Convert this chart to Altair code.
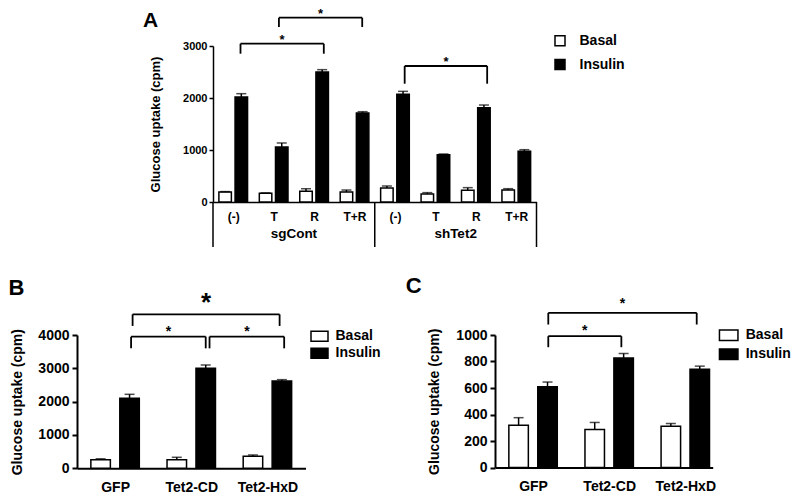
import json
import altair as alt
import pandas as pd

FONT = "Liberation Sans"
SERIES = ["Basal", "Insulin"]
TITLE = "Glucose uptake (cpm)"

# ---------------- Panel A ----------------
a_groups = ["sgCont", "shTet2"]
a_treat = ["(-)", "T", "R", "T+R"]
a_basal = [190, 170, 205, 192, 269, 154, 224, 230]
a_basal_sem = [10, 5, 50, 38, 39, 26, 52, 26]
a_ins = [2020, 1058, 2500, 1711, 2071, 910, 1814, 974]
a_ins_sem = [63, 77, 45, 26, 57, 13, 51, 32]
a_br_x1 = [0.18, 1.13, 4.24]
a_br_x2 = [2.24, 3.19, 6.28]
a_br_top = [3044, 3544, 2615]
a_br_low = [2852, 3365, 2275]
a_star_y = [3035, 3529, 2617]
a_star_fs = [13, 13, 13]

# ---------------- Panel B ----------------
b_cats = ["GFP", "Tet2-CD", "Tet2-HxD"]
b_basal = [260, 260, 360]
b_basal_sem = [25, 70, 40]
b_ins = [2100, 3000, 2620]
b_ins_sem = [120, 100, 40]
b_br_x1 = [0.23, 0.21, 1.24]
b_br_x2 = [2.16, 1.19, 2.22]
b_br_top = [4620, 3951, 3951]
b_br_low = [4272, 3600, 3600]
b_star_y = [4722, 3969, 3969]
b_star_fs = [26, 14, 14]

# ---------------- Panel C ----------------
c_cats = ["GFP", "Tet2-CD", "Tet2-HxD"]
c_basal = [318, 287, 312]
c_basal_sem = [58, 53, 20]
c_ins = [610, 827, 742]
c_ins_sem = [35, 33, 23]
c_br_x1 = [0.20, 0.20]
c_br_x2 = [2.15, 1.16]
c_br_top = [1167, 991]
c_br_low = [1079, 908]
c_star_y = [1205, 1001]
c_star_fs = [14, 14]


def bars_df(basal, bsem, ins, isem, off):
    rows = []
    for i, (b, bs, v, vs) in enumerate(zip(basal, bsem, ins, isem)):
        rows.append(dict(pos=i - off, value=b, top=b + bs, series="Basal"))
        rows.append(dict(pos=i + off, value=v, top=v + vs, series="Insulin"))
    return pd.DataFrame(rows)


def brackets_df(x1, x2, top, low, sy, fs):
    return pd.DataFrame(dict(x1=x1, x2=x2, top=top, low=low, sy=sy, fs=fs,
                             xm=[(a + b) / 2 for a, b in zip(x1, x2)]))


def panel(labels, basal, bsem, ins, isem, off, bar_w, xdom, ydom, yvals, w, h,
          br, letter, letter_xy, leg, yaxis_opts, xaxis_opts, dom_w, extra=None):
    df = bars_df(basal, bsem, ins, isem, off)
    xs = alt.Scale(domain=xdom, nice=False, zero=False, padding=0)
    ys = alt.Scale(domain=ydom, nice=False, zero=True, padding=0)
    lab_expr = json.dumps(labels) + "[datum.value]"
    xaxis = alt.Axis(values=list(range(len(labels))), labelExpr=lab_expr, title=None,
                     ticks=False, tickSize=0, grid=False, domainColor="black",
                     domainWidth=dom_w, labelFlush=False, labelOverlap=False,
                     labelFont=FONT, labelFontWeight="bold", labelColor="black",
                     labelBaseline="top", **xaxis_opts)
    yaxis = alt.Axis(values=yvals, format="d", title=TITLE, grid=False,
                     domainColor="black", domainWidth=dom_w, tickColor="black",
                     tickWidth=dom_w, labelFlush=False, labelFont=FONT,
                     labelFontWeight="bold", labelColor="black", titleFont=FONT,
                     titleFontWeight="bold", titleColor="black", titleBaseline="middle",
                     titleAlign="center", titleY=h / 2, **yaxis_opts)

    def X(f):
        return alt.X(f, type="quantitative", scale=xs, axis=xaxis)

    def Y(f):
        return alt.Y(f, type="quantitative", scale=ys, axis=yaxis)

    base = alt.Chart(df)
    bars = base.mark_bar(size=bar_w, stroke="black", strokeWidth=1.5).encode(
        x=X("pos"), y=Y("value"),
        fill=alt.Fill("series:N", scale=alt.Scale(domain=SERIES, range=["white", "black"]),
                      legend=alt.Legend(title=None, orient="none", padding=0,
                                        symbolStrokeColor="black", symbolStrokeWidth=1.5,
                                        symbolOpacity=1, labelFont=FONT,
                                        labelFontWeight="bold", labelColor="black", **leg)),
    )
    err = base.mark_rule(color="black", strokeWidth=1.5).encode(
        x=X("pos"), y=Y("value"), y2="top")
    cap = base.mark_tick(orient="horizontal", size=10, thickness=1.5, color="black").encode(
        x=X("pos"), y=Y("top"))

    bdf = alt.Chart(br)
    hline = bdf.mark_rule(color="black", strokeWidth=1.8).encode(x=X("x1"), x2="x2", y=Y("top"))
    v1 = bdf.mark_rule(color="black", strokeWidth=1.8).encode(x=X("x1"), y=Y("top"), y2="low")
    v2 = bdf.mark_rule(color="black", strokeWidth=1.8).encode(x=X("x2"), y=Y("top"), y2="low")
    stars = bdf.mark_text(font=FONT, fontWeight="bold", baseline="alphabetic", align="center",
                          color="black").encode(
        x=X("xm"), y=Y("sy"), text=alt.value("*"),
        size=alt.Size("fs:Q", scale=None, legend=None))

    let = alt.Chart(pd.DataFrame({"t": [letter]})).mark_text(
        font=FONT, fontWeight="bold", fontSize=letter_xy[2], align="left",
        baseline="alphabetic", color="black").encode(
        x=alt.value(letter_xy[0]), y=alt.value(letter_xy[1]), text="t:N")

    layers = [bars, err, cap, hline, v1, v2, stars, let]
    if extra is not None:
        layers += extra(X)
    return alt.layer(*layers).properties(width=w, height=h)


# Panel A extras: group labels and divider lines
def a_extra(X):
    n = len(a_treat)
    gdf = pd.DataFrame(dict(label=a_groups,
                            pos=[g * n + (n - 1) / 2 for g in range(len(a_groups))]))
    ddf = pd.DataFrame(dict(pos=[g * n - 0.5 for g in range(len(a_groups) + 1)]))
    glab = alt.Chart(gdf).mark_text(font=FONT, fontWeight="bold", fontSize=13.5,
                                    baseline="alphabetic", color="black").encode(
        x=X("pos"), y=alt.value(192), text="label:N")
    div = alt.Chart(ddf).mark_rule(color="black", strokeWidth=1.5).encode(
        x=X("pos"), y=alt.value(156), y2=alt.value(201))
    return [glab, div]


chartA = panel(a_treat * len(a_groups), a_basal, a_basal_sem, a_ins, a_ins_sem, 0.2, 12.5,
               [-0.5, 7.5], [0, 3000], [0, 1000, 2000, 3000], 323.5, 156,
               brackets_df(a_br_x1, a_br_x2, a_br_top, a_br_low, a_star_y, a_star_fs),
               "A", (-70, -19, 21),
               dict(legendX=340, legendY=-12.2, symbolType="square", symbolSize=100,
                    labelFontSize=14, labelOffset=12.5, rowPadding=7.7),
               dict(tickSize=4, labelPadding=2, labelFontSize=11, titleFontSize=13,
                    titleX=-57.3),
               dict(labelPadding=9, labelFontSize=12), 1.5, extra=a_extra)

chartB = panel(b_cats, b_basal, b_basal_sem, b_ins, b_ins_sem, 0.19, 19.5,
               [-0.5, 2.5], [0, 4000], [0, 1000, 2000, 3000, 4000], 228.5, 133.3,
               brackets_df(b_br_x1, b_br_x2, b_br_top, b_br_low, b_star_y, b_star_fs),
               "B", (-68.5, -40.3, 22),
               dict(legendX=235.5, legendY=-5.8, symbolType="M-1.7,-1H1.7V1H-1.7Z",
                    symbolSize=100, labelFontSize=14, labelOffset=9, rowPadding=1),
               dict(tickSize=5, labelPadding=3, labelFontSize=14, titleFontSize=14,
                    titleX=-59.5),
               dict(labelPadding=12, labelFontSize=14), 2)

chartC = panel(c_cats, c_basal, c_basal_sem, c_ins, c_ins_sem, 0.19, 19.5,
               [-0.5, 2.36], [0, 1000], [0, 200, 400, 600, 800, 1000], 217.7, 132.5,
               brackets_df(c_br_x1, c_br_x2, c_br_top, c_br_low, c_star_y, c_star_fs),
               "C", (-89.3, -41.8, 22),
               dict(legendX=226.7, legendY=-6.8, symbolType="M-1.85,-1.05H1.85V1.05H-1.85Z",
                    symbolSize=100, labelFontSize=14, labelOffset=10, rowPadding=1),
               dict(tickSize=5, labelPadding=3, labelFontSize=14, titleFontSize=14,
                    titleX=-60.3),
               dict(labelPadding=12, labelFontSize=14), 2)

spacer = alt.Chart(pd.DataFrame({"a": [0]})).mark_point(opacity=0).properties(width=66, height=10)

rowA = alt.hconcat(spacer, chartA, spacing=0).resolve_scale(fill="independent")
rowBC = alt.hconcat(chartB, chartC, spacing=23).resolve_scale(fill="independent")

chart = (
    alt.vconcat(rowA, rowBC, spacing=27, padding=0, background="white")
    .resolve_scale(fill="independent")
    .configure_view(stroke=None)
)

chart.save("out.html", embed_options={"renderer": "svg", "actions": False})
